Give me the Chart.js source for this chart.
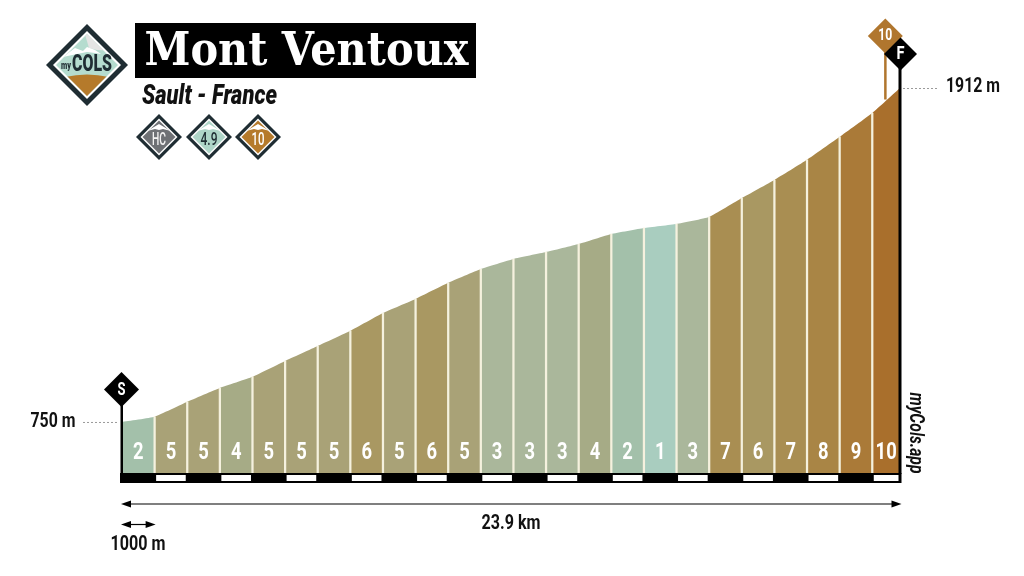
<!DOCTYPE html>
<html>
<head>
<meta charset="utf-8">
<title>Mont Ventoux</title>
<script src="https://cdn.jsdelivr.net/npm/chart.js@4"></script>
<style>
    html, body { margin: 0; padding: 0; background: #fff; }
    canvas { display: block; }
</style>
</head>
<body>
<canvas id="profile" width="1024" height="576"></canvas>
<script>
'use strict';

const kmMarks = [0, 1, 2, 3, 4, 5, 6, 7, 8, 9, 10, 11, 12, 13, 14, 15, 16, 17, 18, 19, 20, 21, 22, 23, 23.85];
const elevations = [750, 768, 820, 868, 907, 962, 1014, 1067, 1129, 1178, 1234, 1282, 1317, 1341, 1369, 1404, 1425, 1439, 1463, 1529, 1592, 1662, 1742, 1825, 1912];
const gradients = [2, 5, 5, 4, 5, 5, 5, 6, 5, 6, 5, 3, 3, 3, 4, 2, 1, 3, 7, 6, 7, 8, 9, 10];
// colour of a km by its gradient, index 0 is 1%
const gradientColors = ['#a9cdbf', '#a3c0aa', '#aab79b', '#a6ab86', '#a9a277', '#a99862', '#a98e52', '#a98545', '#aa7a38', '#a96f2c'];

const baseElevation = 569;
const totalLabel = '23.9 km';
const scaleLabel = '1000 m';
const startLabel = '750 m';
const finishLabel = '1912 m';

const narrowFamily = 'Roboto, sans-serif';
const ink = '#000';

const drawText = (ctx, text, x, y, font, color, maxWidth) => {
    ctx.font = font;
    ctx.fillStyle = color;
    ctx.textAlign = 'center';
    ctx.textBaseline = 'middle';
    if (maxWidth) {
        ctx.fillText(text, x, y, maxWidth);
    } else {
        ctx.fillText(text, x, y);
    }
};

const diamondPath = (ctx, cx, cy, half) => {
    ctx.beginPath();
    ctx.moveTo(cx, cy - half);
    ctx.lineTo(cx + half, cy);
    ctx.lineTo(cx, cy + half);
    ctx.lineTo(cx - half, cy);
    ctx.closePath();
};

const diamond = (ctx, cx, cy, half, color) => {
    diamondPath(ctx, cx, cy, half);
    ctx.fillStyle = color;
    ctx.fill();
};

// small framed badge under the title
const badge = (ctx, cx, cy, color, text, textColor, width) => {
    diamond(ctx, cx, cy, 23, '#1f2d33');
    diamond(ctx, cx, cy, 18.5, '#fff');
    diamond(ctx, cx, cy, 16.5, color);
    ctx.save();
    diamondPath(ctx, cx, cy, 16.5);
    ctx.clip();
    ctx.fillStyle = '#fff';
    ctx.beginPath();
    ctx.moveTo(cx - 12, cy - 6);
    ctx.lineTo(cx - 5, cy - 10);
    ctx.lineTo(cx, cy - 13);
    ctx.lineTo(cx + 5, cy - 10);
    ctx.lineTo(cx + 12, cy - 6);
    ctx.lineTo(cx + 4, cy - 8);
    ctx.lineTo(cx, cy - 7);
    ctx.lineTo(cx - 4, cy - 8);
    ctx.closePath();
    ctx.fill();
    ctx.restore();
    drawText(ctx, text, cx, cy + 3, `500 19px ${narrowFamily}`, textColor, width);
};

const logo = (ctx, cx, cy) => {
    diamond(ctx, cx, cy, 41, '#1f2d33');
    diamond(ctx, cx, cy, 34, '#fff');
    diamond(ctx, cx, cy, 31, '#b5dccf');
    ctx.save();
    diamondPath(ctx, cx, cy, 31);
    ctx.clip();
    // peaks
    ctx.fillStyle = '#e4e4e4';
    ctx.beginPath();
    ctx.moveTo(cx - 3, cy - 34);
    ctx.lineTo(cx + 30, cy - 34);
    ctx.lineTo(cx + 30, cy - 14);
    ctx.lineTo(cx + 10, cy - 15);
    ctx.lineTo(cx + 2, cy - 17);
    ctx.closePath();
    ctx.fill();
    ctx.fillStyle = '#fff';
    ctx.beginPath();
    ctx.moveTo(cx - 24, cy - 8);
    ctx.lineTo(cx - 12, cy - 17);
    ctx.lineTo(cx - 4, cy - 14);
    ctx.lineTo(cx, cy - 18);
    ctx.lineTo(cx + 8, cy - 15);
    ctx.lineTo(cx + 14, cy - 11);
    ctx.lineTo(cx + 8, cy - 12);
    ctx.lineTo(cx, cy - 13);
    ctx.lineTo(cx - 10, cy - 11);
    ctx.closePath();
    ctx.fill();
    // hill
    ctx.fillStyle = '#b57a2b';
    ctx.beginPath();
    ctx.moveTo(cx - 22, cy + 12);
    ctx.quadraticCurveTo(cx, cy + 7, cx + 22, cy + 12);
    ctx.lineTo(cx, cy + 36);
    ctx.closePath();
    ctx.fill();
    ctx.restore();
    drawText(ctx, 'my', cx - 21, cy + 1, `900 11px ${narrowFamily}`, '#1f2d33', 10);
    drawText(ctx, 'COLS', cx + 5, cy, `900 23px ${narrowFamily}`, '#1f2d33', 40);
};

const arrowHead = (ctx, x, y, dir) => {
    ctx.beginPath();
    ctx.moveTo(x, y);
    ctx.lineTo(x + dir * 10, y - 3.5);
    ctx.lineTo(x + dir * 10, y + 3.5);
    ctx.closePath();
    ctx.fillStyle = ink;
    ctx.fill();
};

const spanArrow = (ctx, x0, x1, y) => {
    ctx.strokeStyle = ink;
    ctx.lineWidth = 1.2;
    ctx.beginPath();
    ctx.moveTo(x0 + 5, y);
    ctx.lineTo(x1 - 5, y);
    ctx.stroke();
    arrowHead(ctx, x0, y, 1);
    arrowHead(ctx, x1, y, -1);
};

const leaderLine = (ctx, x0, x1, y) => {
    ctx.save();
    ctx.strokeStyle = '#9a9a9a';
    ctx.lineWidth = 1;
    ctx.setLineDash([2, 2]);
    ctx.beginPath();
    ctx.moveTo(x0, y + 0.5);
    ctx.lineTo(x1, y + 0.5);
    ctx.stroke();
    ctx.restore();
};

// everything around the profile: band, flags, labels, header
const decorations = {
    id: 'decorations',
    afterDraw: (chart) => {
        const ctx = chart.ctx;
        const x = chart.scales.x;
        const y = chart.scales.y;
        const lastKm = kmMarks[kmMarks.length - 1];
        const left = x.getPixelForValue(0);
        const right = x.getPixelForValue(lastKm);
        const base = y.getPixelForValue(baseElevation);
        const startY = y.getPixelForValue(elevations[0]);
        const finishY = y.getPixelForValue(elevations[elevations.length - 1]);

        ctx.save();

        // gradient number of each km
        gradients.forEach((g, i) => {
            const mid = (x.getPixelForValue(kmMarks[i]) + x.getPixelForValue(kmMarks[i + 1])) / 2;
            ctx.font = `bold 23px ${narrowFamily}`;
            const w = ctx.measureText(String(g)).width * 0.8;
            drawText(ctx, String(g), mid, base - 20.5, `bold 23px ${narrowFamily}`, '#fff', w);
        });

        // km band
        ctx.fillStyle = ink;
        ctx.fillRect(left - 2, base - 1, right - left + 3.5, 10);
        ctx.fillStyle = '#fff';
        gradients.forEach((g, i) => {
            if (i % 2 === 1) {
                const a = x.getPixelForValue(kmMarks[i]);
                const b = x.getPixelForValue(kmMarks[i + 1]);
                ctx.fillRect(a + 1.5, base + 1, b - a - 3, 6);
            }
        });

        // start and finish posts
        ctx.fillStyle = ink;
        ctx.fillRect(left - 1.5, startY - 33, 2.5, base - startY + 33);
        ctx.fillRect(right - 1.5, 54, 3, base - 54);
        diamond(ctx, left - 0.5, 389.5, 17.5, ink);
        drawText(ctx, 'S', left - 0.5, 390, `bold 18px ${narrowFamily}`, '#fff', 8);

        // steepest km flag
        const steepest = x.getPixelForValue(lastKm - 0.45);
        ctx.fillStyle = '#b0762e';
        ctx.fillRect(steepest - 1.2, 40, 2.5, y.getPixelForValue(1872) - 40);
        diamond(ctx, steepest, 36, 17.5, '#b0762e');
        drawText(ctx, '10', steepest, 36, `bold 17px ${narrowFamily}`, '#fff', 14);
        diamond(ctx, right + 0.5, 54, 16.5, ink);
        drawText(ctx, 'F', right + 0.5, 54, `bold 18px ${narrowFamily}`, '#fff', 8);

        // elevation labels
        leaderLine(ctx, left - 39, left - 3, startY);
        leaderLine(ctx, right + 3, right + 39, finishY);
        drawText(ctx, startLabel, 53, startY, `bold 20px ${narrowFamily}`, '#111', 45);
        drawText(ctx, finishLabel, 973, finishY - 1, `bold 20px ${narrowFamily}`, '#111', 54);

        // distance arrows
        spanArrow(ctx, left - 1, right + 1.5, 504);
        drawText(ctx, totalLabel, 511, 524, `bold 20px ${narrowFamily}`, '#111', 59);
        spanArrow(ctx, left - 1, x.getPixelForValue(1) + 1, 524.5);
        drawText(ctx, scaleLabel, 138, 545, `bold 20px ${narrowFamily}`, '#111', 55);

        // app credit
        ctx.save();
        ctx.translate(915, 433);
        ctx.rotate(Math.PI / 2);
        drawText(ctx, 'myCols.app', 0, 0, `italic bold 21px ${narrowFamily}`, '#111', 81);
        ctx.restore();

        // header
        logo(ctx, 87, 65);
        ctx.fillStyle = ink;
        ctx.fillRect(135, 23, 341, 55);
        drawText(ctx, 'Mont Ventoux', 306.5, 53, 'bold 47px "DejaVu Serif", serif', '#fff', 324);
        ctx.textAlign = 'left';
        ctx.font = `italic 900 27px ${narrowFamily}`;
        ctx.fillStyle = '#111';
        ctx.textBaseline = 'middle';
        ctx.fillText('Sault - France', 142, 97, 135);
        badge(ctx, 159, 137, '#6e7175', 'HC', '#f2f2f2', 14);
        badge(ctx, 209, 137, '#aed5c8', '4.9', '#1f2d33', 17);
        badge(ctx, 258, 137, '#b57a2b', '10', '#fff', 13);

        ctx.restore();
    }
};

const points = kmMarks.map((km, i) => ({ x: km, y: elevations[i] }));

new Chart(document.getElementById('profile'), {
    data: {
        datasets: [{
            type: 'bar',
            data: points.slice(1, -1),
            base: baseElevation,
            backgroundColor: '#f5f1de',
            barThickness: 1.6,
            borderWidth: 0,
            order: 1
        }, {
            type: 'line',
            data: points,
            fill: 'start',
            tension: 0.12,
            borderWidth: 0,
            borderColor: 'transparent',
            backgroundColor: gradientColors[1],
            pointRadius: 0,
            segment: {
                backgroundColor: seg => gradientColors[gradients[seg.p0DataIndex] - 1]
            },
            order: 2
        }]
    },
    options: {
        responsive: false,
        animation: false,
        layout: {
            padding: { left: 122, right: 124, top: 88, bottom: 102 }
        },
        scales: {
            x: { type: 'linear', min: 0, max: kmMarks[kmMarks.length - 1], offset: false, display: false },
            y: { type: 'linear', min: baseElevation, max: 1912, display: false }
        },
        plugins: {
            legend: { display: false },
            tooltip: { enabled: false }
        }
    },
    plugins: [decorations]
});
</script>
</body>
</html>
